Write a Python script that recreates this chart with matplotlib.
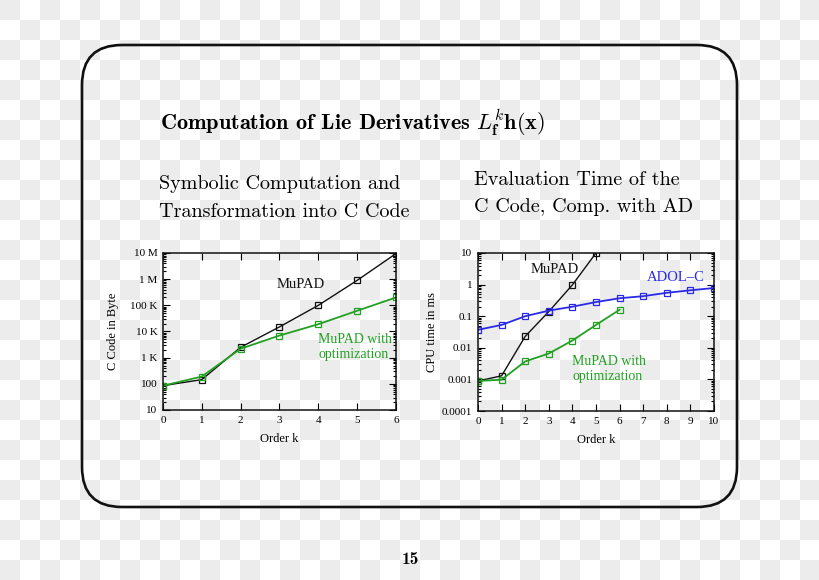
import numpy as np
import matplotlib
matplotlib.use("Agg")
import matplotlib.pyplot as plt
from matplotlib.patches import FancyBboxPatch, Rectangle
from matplotlib.collections import PatchCollection
from matplotlib.ticker import FixedLocator, FixedFormatter, LogLocator, NullFormatter

plt.rcParams["mathtext.fontset"] = "cm"

# ---- data ----
k_code = [0, 1, 2, 3, 4, 5, 6]
code_mupad = [85, 145, 2500, 15000, 100000, 900000, 9500000]
code_opt = [85, 190, 2200, 7000, 19000, 62000, 200000]

k_mupad_t = [0, 1, 2, 3, 4, 5]
time_mupad = [0.00089, 0.0013, 0.023, 0.14, 0.98, 10.0]
k_opt_t = [0, 1, 2, 3, 4, 5, 6]
time_opt = [0.00089, 0.00098, 0.0037, 0.0066, 0.017, 0.053, 0.16]
k_adol = [0, 1, 2, 3, 4, 5, 6, 7, 8, 9, 10]
time_adol = [0.037, 0.053, 0.10, 0.15, 0.20, 0.28, 0.37, 0.43, 0.55, 0.66, 0.78]

code_ticks = [10, 100, 1e3, 1e4, 1e5, 1e6, 1e7]
code_ticklabels = ["10", "100", "1 K", "10 K", "100 K", "1 M", "10 M"]
time_ticks = [1e-4, 1e-3, 1e-2, 1e-1, 1, 10]
time_ticklabels = ["0.0001", "0.001", "0.01", "0.1", "1", "10"]

BLACK = "#111111"
GREEN = "#22a022"
BLUE = "#2a2ae6"
W, H = 820, 580

fig = plt.figure(figsize=(8.2, 5.8), dpi=100)

# checkerboard background + rounded frame
bg = fig.add_axes([0, 0, 1, 1])
bg.set_xlim(0, W)
bg.set_ylim(H, 0)
bg.axis("off")
squares = []
for i in range(H // 20 + 1):
    for j in range(W // 20 + 1):
        if (i + j) % 2 == 0:
            squares.append(Rectangle((j * 20, i * 20), 20, 20))
bg.add_collection(PatchCollection(squares, fc="#ececec", ec="none"))
frame = FancyBboxPatch((82 + 40, 45 + 40), 655 - 80, 462 - 80,
                       boxstyle="round,pad=40", fc="none", ec="#111111", lw=1.9)
bg.add_patch(frame)


def fx(x):
    return x / W


def fy(y):
    return 1 - y / H


serif = "Liberation Serif"

# titles
fig.text(fx(160), fy(123),
         r"Computation of Lie Derivatives $L_{\mathbf{f}}^{k}\mathbf{h}(\mathbf{x})$",
         family="cmb10", fontsize=16, va="center", ha="left")
fig.text(fx(159), fy(184), "Symbolic Computation and", family="cmr10", fontsize=14.5, va="center")
fig.text(fx(159), fy(212), "Transformation into C Code", family="cmr10", fontsize=14.5, va="center")
fig.text(fx(474), fy(180), "Evaluation Time of the", family="cmr10", fontsize=14.5, va="center")
fig.text(fx(474), fy(207), "C Code, Comp. with AD", family="cmr10", fontsize=14.5, va="center")
fig.text(fx(410), fy(560), "15", family="cmb10", fontsize=12.5, ha="center", va="center")


def style_axes(ax):
    ax.set_facecolor("none")
    for s in ax.spines.values():
        s.set_linewidth(1.1)
        s.set_color("#111111")
    ax.tick_params(which="both", direction="in", top=True, right=True,
                   labelsize=8, pad=4, width=0.8)
    ax.tick_params(which="major", length=5)
    ax.tick_params(which="minor", length=2.5)
    for lab in ax.get_xticklabels() + ax.get_yticklabels():
        lab.set_family(serif)


# left panel
ax1 = fig.add_axes([fx(163), fy(410), fx(396 - 163), (410 - 253) / H])
ax1.set_yscale("log")
ax1.plot(k_code, code_mupad, color=BLACK, lw=1, marker="s", ms=5, mfc="none", mew=0.9)
ax1.plot(k_code, code_opt, color=GREEN, lw=1.3, marker="s", ms=5, mfc="none", mew=0.9)
ax1.set_xlim(0, 6)
ax1.set_ylim(10, 1e7)
ax1.set_xticks(range(0, 7))
ax1.yaxis.set_major_locator(FixedLocator(code_ticks))
ax1.yaxis.set_major_formatter(FixedFormatter(code_ticklabels))
ax1.yaxis.set_minor_locator(LogLocator(subs=np.arange(2, 10)))
ax1.yaxis.set_minor_formatter(NullFormatter())
ax1.set_xlabel("Order k", family=serif, fontsize=9, labelpad=6)
ax1.set_ylabel("C Code in Byte", family=serif, fontsize=9, labelpad=8)
style_axes(ax1)
ax1.text(3.55, 6e5, "MuPAD", family=serif, fontsize=10.5, ha="center", va="center", color=BLACK)
ax1.text(4.0, 2.5e3, "MuPAD with\noptimization", family=serif, fontsize=10, ha="left",
         va="center", color=GREEN, linespacing=1.2)

# right panel
ax2 = fig.add_axes([fx(478), fy(411), fx(714 - 478), (411 - 253) / H])
ax2.set_yscale("log")
ax2.plot(k_mupad_t, time_mupad, color=BLACK, lw=1, marker="s", ms=5, mfc="none", mew=0.9)
ax2.plot(k_adol, time_adol, color=BLUE, lw=1.3, marker="s", ms=5, mfc="none", mew=0.9)
ax2.plot(k_opt_t, time_opt, color=GREEN, lw=1.3, marker="s", ms=5, mfc="none", mew=0.9)
ax2.set_xlim(0, 10)
ax2.set_ylim(1e-4, 10)
ax2.set_xticks(range(0, 11))
ax2.yaxis.set_major_locator(FixedLocator(time_ticks))
ax2.yaxis.set_major_formatter(FixedFormatter(time_ticklabels))
ax2.yaxis.set_minor_locator(LogLocator(subs=np.arange(2, 10)))
ax2.yaxis.set_minor_formatter(NullFormatter())
ax2.set_xlabel("Order k", family=serif, fontsize=9, labelpad=6)
ax2.set_ylabel("CPU time in ms", family=serif, fontsize=9, labelpad=3)
style_axes(ax2)
ax2.text(3.25, 3.0, "MuPAD", family=serif, fontsize=10.5, ha="center", va="center", color=BLACK)
ax2.text(8.4, 1.7, "ADOL\u2013C", family=serif, fontsize=10.5, ha="center", va="center", color=BLUE)
ax2.text(4.0, 0.0021, "MuPAD with\noptimization", family=serif, fontsize=10, ha="left",
         va="center", color=GREEN, linespacing=1.2)

fig.savefig("out.png", dpi=100)
